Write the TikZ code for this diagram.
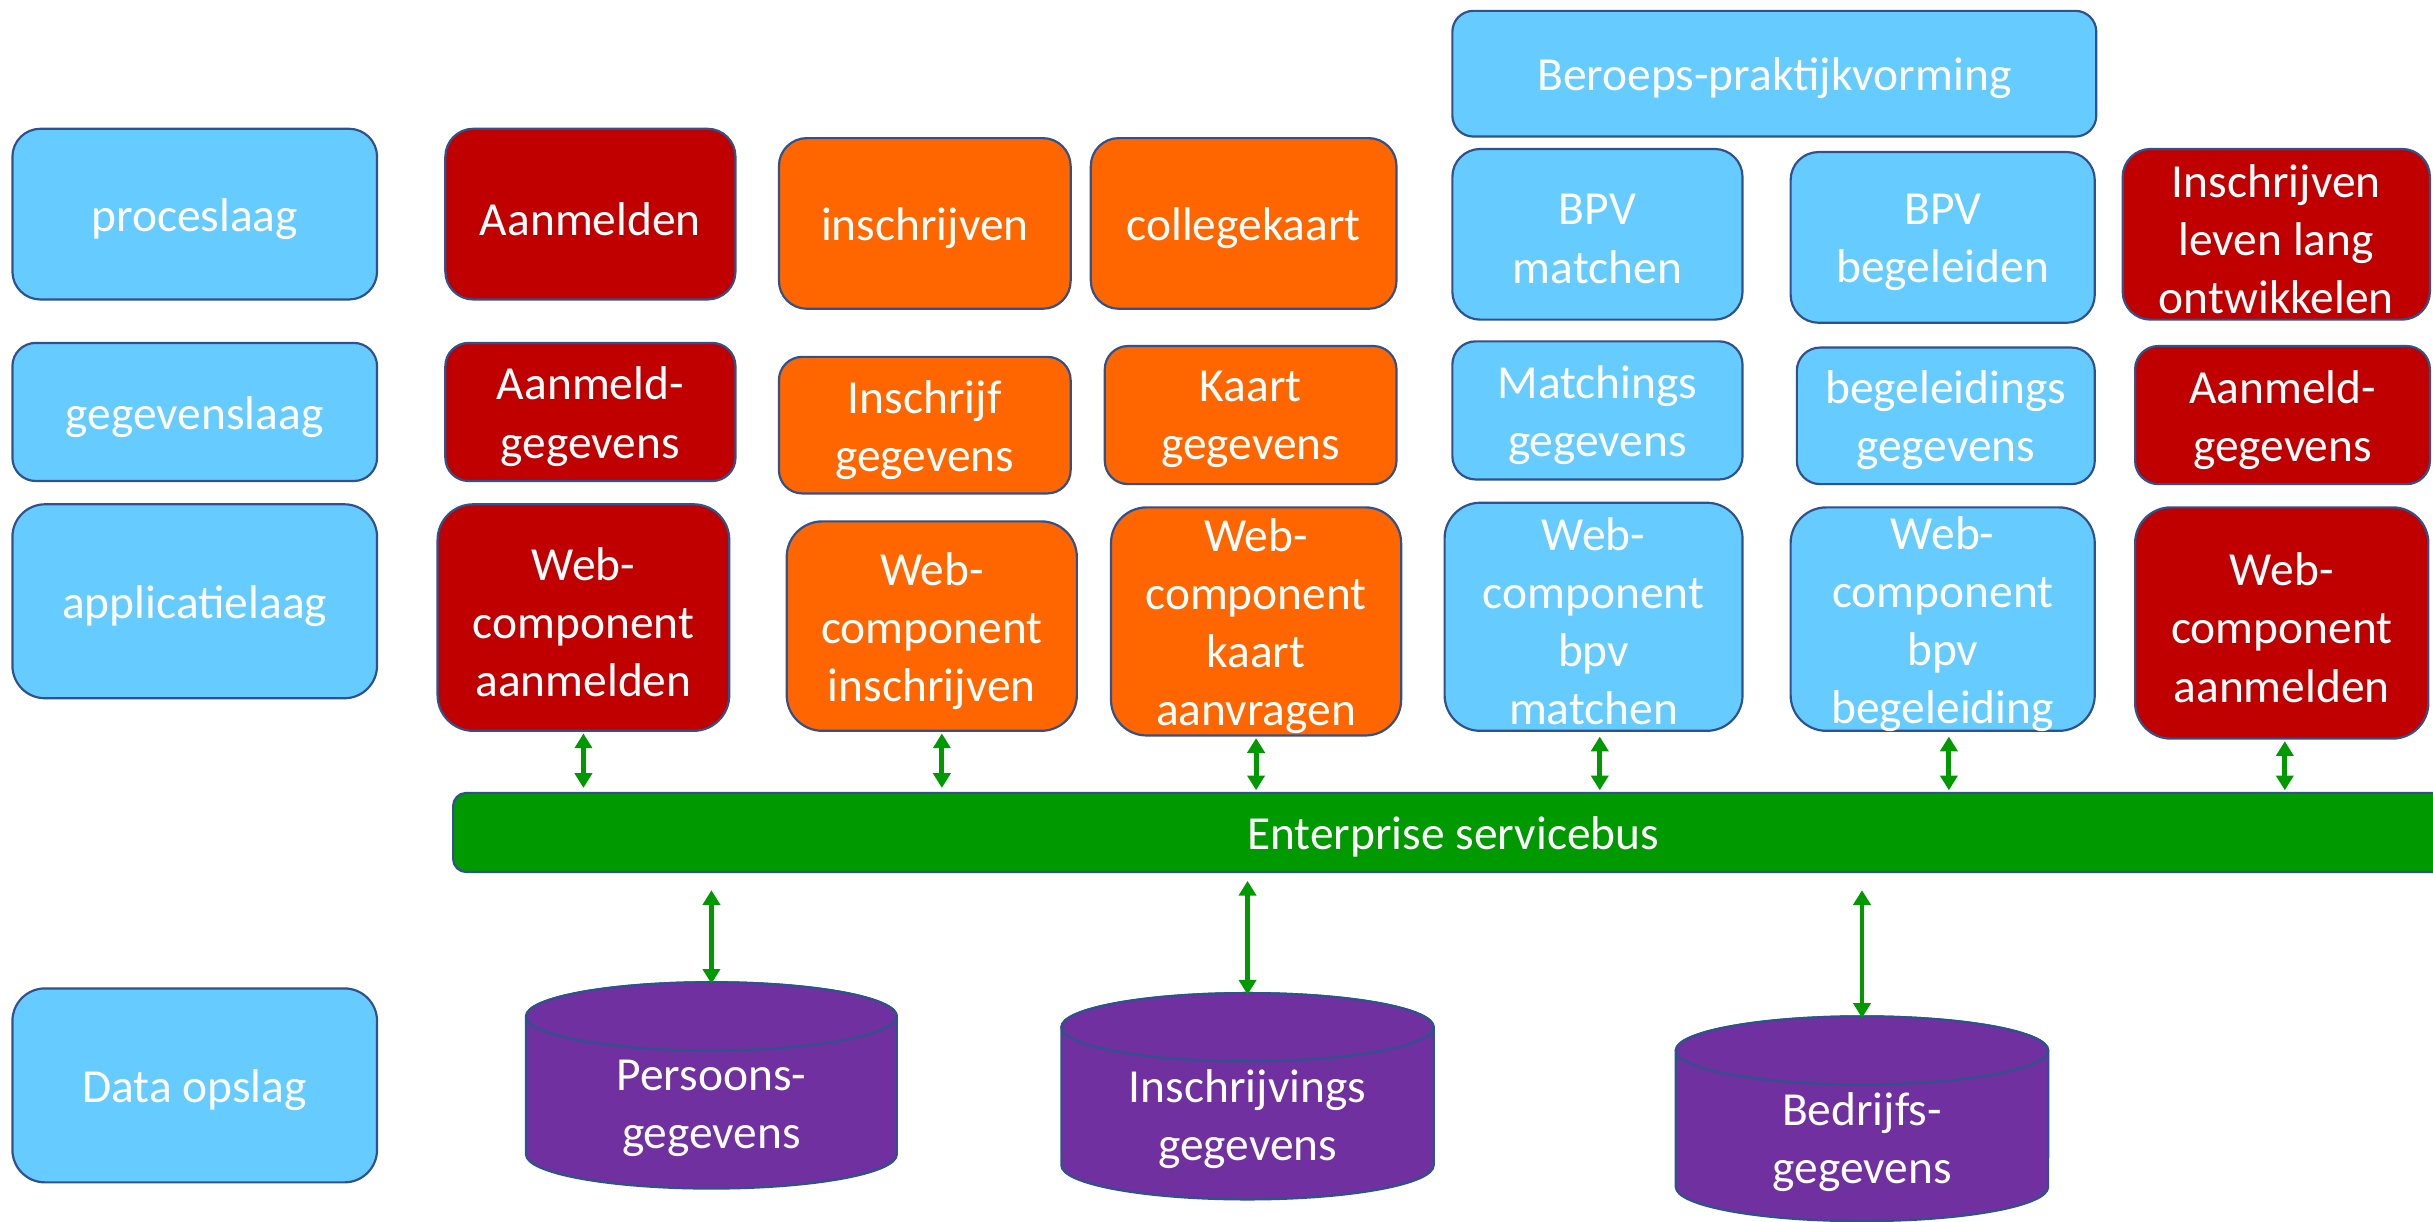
\documentclass[tikz,border=0pt]{standalone}
\usepackage{fontspec}
\setmainfont{Carlito}
\usetikzlibrary{fit,arrows.meta}

\definecolor{laag}{HTML}{66CCFF}
\definecolor{rood}{HTML}{C00000}
\definecolor{oranje}{HTML}{FF6600}
\definecolor{groen}{HTML}{009900}
\definecolor{paars}{HTML}{7030A0}
\definecolor{rand}{HTML}{2F528F}

\tikzset{
  tekst/.style={text=white, align=center, inner sep=0pt, yshift=-0.06cm,
    font=\fontsize{17.4}{21.3}\selectfont},
  blok/.style={draw=rand, line width=0.8pt, rounded corners=0.36cm, inner sep=0pt},
  laagblok/.style={blok, fill=laag},
  roodblok/.style={blok, fill=rood},
  oranjeblok/.style={blok, fill=oranje},
  busblok/.style={blok, fill=groen, rounded corners=0.17cm},
  plat/.style={rounded corners=0.3cm},
  hoog/.style={rounded corners=0.46cm},
  txt/.style={label={[tekst]center:{#1}}},
  vat/.style={fill=paars, draw=rand, line width=0.8pt},
  pijl/.style={draw=groen, line width=1.8pt,
    {Triangle[length=0.19cm,width=0.22cm]}-{Triangle[length=0.19cm,width=0.22cm]}},
}

\begin{document}
\begin{tikzpicture}[x=0.02cm, y=0.02cm]
\useasboundingbox (0,0) rectangle (1568,-787);

% layer labels
\node[laagblok, fit={(8,-83) (243,-193)}, txt={proceslaag}] (proces) {};
\node[laagblok, plat, fit={(8,-221) (243,-310)}, txt={gegevenslaag}] (gegevens) {};
\node[laagblok, rounded corners=0.42cm, fit={(8,-325) (243,-450)}, txt={applicatielaag}] (applicatie) {};
\node[laagblok, rounded corners=0.42cm, fit={(8,-637) (243,-762)}, txt={Data opslag}] (opslag) {};

% aanmelden
\node[roodblok, fit={(287,-83) (474,-193)}, txt={Aanmelden}] (aanmelden) {};
\node[roodblok, plat, fit={(287,-221) (474,-310)}, txt={Aanmeld-\\gegevens}] (aanmeldgeg) {};
\node[roodblok, hoog, fit={(282,-325) (470,-471)}, txt={Web-\\component\\aanmelden}] (wcaanmelden) {};

% inschrijven
\node[oranjeblok, fit={(502,-89) (690,-199)}, txt={inschrijven}] (inschrijven) {};
\node[oranjeblok, plat, fit={(502,-230) (690,-318)}, txt={Inschrijf\\gegevens}] (inschrijfgeg) {};
\node[oranjeblok, hoog, fit={(507,-336) (694,-471)}, txt={Web-\\component\\inschrijven}] (wcinschrijven) {};

% collegekaart
\node[oranjeblok, fit={(703,-89) (900,-199)}, txt={collegekaart}] (collegekaart) {};
\node[oranjeblok, plat, fit={(712,-223) (900,-312)}, txt={Kaart\\gegevens}] (kaartgeg) {};
\node[oranjeblok, hoog, fit={(716,-327) (903,-474)}, txt={Web-\\component\\kaart\\aanvragen}] (wckaart) {};

% beroepspraktijkvorming
\node[laagblok, rounded corners=0.27cm, fit={(936,-7) (1351,-88)}, txt={Beroeps-praktijkvorming}] (bpv) {};
\node[laagblok, fit={(936,-96) (1123,-206)}, txt={BPV\\matchen}] (bpvmatchen) {};
\node[laagblok, fit={(1154,-98) (1350,-208)}, txt={BPV\\begeleiden}] (bpvbegeleiden) {};
\node[laagblok, plat, fit={(936,-220) (1123,-309)}, txt={Matchings\\gegevens}] (matchgeg) {};
\node[laagblok, plat, fit={(1158,-224) (1350,-312)}, txt={begeleidings\\gegevens}] (begeleidgeg) {};
\node[laagblok, hoog, fit={(931,-324) (1123,-471)}, txt={Web-\\component\\bpv\\matchen}] (wcmatchen) {};
\node[laagblok, hoog, fit={(1154,-327) (1350,-471)}, txt={Web-\\component\\bpv\\begeleiding}] (wcbegeleiding) {};

% leven lang ontwikkelen
\node[roodblok, fit={(1368,-96) (1566,-206)}, txt={Inschrijven\\leven lang\\ontwikkelen}] (llo) {};
\node[roodblok, plat, fit={(1376,-223) (1566,-312)}, txt={Aanmeld-\\gegevens}] (aanmeldgeg2) {};
\node[roodblok, hoog, fit={(1376,-327) (1565,-476)}, txt={Web-\\component\\aanmelden}] (wcaanmelden2) {};

% enterprise service bus
\node[busblok, fit={(292,-511) (1581,-562)}, txt={Enterprise servicebus}] (bus) {};

% data stores
\path[vat] (339,-655) -- (339,-744) arc[start angle=180, end angle=360, x radius=2.39cm, y radius=0.44cm]
  -- (578,-655) arc[start angle=0, end angle=180, x radius=2.39cm, y radius=0.44cm] -- cycle;
\path[vat] (458.5,-655) ellipse[x radius=2.39cm, y radius=0.44cm];
\coordinate (vat1top) at (458.5,-634);
\node[tekst] (vat1) at (458.5,-711) {Persoons-\\gegevens};

\path[vat] (684,-662) -- (684,-751) arc[start angle=180, end angle=360, x radius=2.4cm, y radius=0.44cm]
  -- (924,-662) arc[start angle=0, end angle=180, x radius=2.4cm, y radius=0.44cm] -- cycle;
\path[vat] (804,-662) ellipse[x radius=2.4cm, y radius=0.44cm];
\coordinate (vat2top) at (804,-641);
\node[tekst] (vat2) at (804,-718) {Inschrijvings\\gegevens};

\path[vat] (1080,-677) -- (1080,-765) arc[start angle=180, end angle=360, x radius=2.4cm, y radius=0.44cm]
  -- (1320,-677) arc[start angle=0, end angle=180, x radius=2.4cm, y radius=0.44cm] -- cycle;
\path[vat] (1200,-677) ellipse[x radius=2.4cm, y radius=0.44cm];
\coordinate (vat3top) at (1200,-656);
\node[tekst] (vat3) at (1200,-733) {Bedrijfs-\\gegevens};

% connections to the bus
\draw[pijl] ([yshift=-0.02cm]wcaanmelden.south) -- ([yshift=0.05cm]wcaanmelden.south |- bus.north);
\draw[pijl] ([xshift=0.13cm,yshift=-0.02cm]wcinschrijven.south) -- ([xshift=0.13cm,yshift=0.05cm]wcinschrijven.south |- bus.north);
\draw[pijl] ([yshift=-0.02cm]wckaart.south) -- ([yshift=0.02cm]wckaart.south |- bus.north);
\draw[pijl] ([xshift=0.08cm,yshift=-0.06cm]wcmatchen.south) -- ([xshift=0.08cm,yshift=0.02cm]wcmatchen.south |- bus.north);
\draw[pijl] ([xshift=0.08cm,yshift=-0.06cm]wcbegeleiding.south) -- ([xshift=0.08cm,yshift=0.02cm]wcbegeleiding.south |- bus.north);
\draw[pijl] ([xshift=0.04cm,yshift=-0.02cm]wcaanmelden2.south) -- ([xshift=0.04cm,yshift=0.02cm]wcaanmelden2.south |- bus.north);

\draw[pijl] ([yshift=-0.22cm]bus.south -| vat1top) -- (vat1top);
\draw[pijl] ([yshift=-0.1cm]bus.south -| vat2top) -- (vat2top);
\draw[pijl] ([yshift=-0.22cm]bus.south -| vat3top) -- (vat3top);
\end{tikzpicture}
\end{document}
